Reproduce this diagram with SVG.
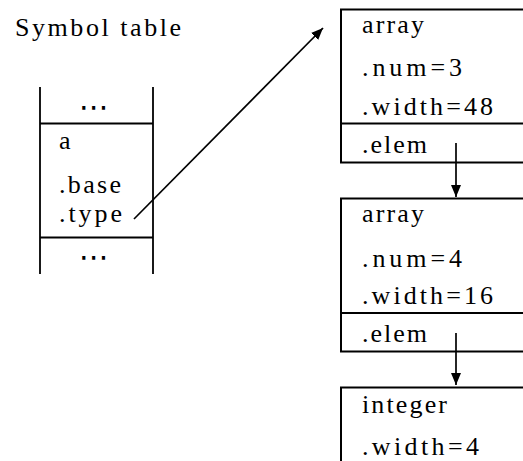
<svg xmlns="http://www.w3.org/2000/svg" width="523" height="461" viewBox="0 0 523 461">
<style>
text{font-family:'Liberation Serif','DejaVu Serif',serif;font-size:26px;fill:#000}
.dots{font-family:'DejaVu Sans',sans-serif;font-size:30px}
.ln{stroke:#000;stroke-width:1.8;fill:none}
.box{stroke:#000;stroke-width:2;fill:#fff}
.conn{stroke:#000;stroke-width:1.7;fill:none;marker-end:url(#ah)}
</style>
<defs>
<marker id="ah" viewBox="0 0 12 10" refX="12" refY="5" markerWidth="12" markerHeight="10" markerUnits="userSpaceOnUse" orient="auto">
<path d="M0,0 L12,5 L0,10 Z" fill="#000"/>
</marker>
</defs>
<rect width="523" height="461" fill="#fff"/>
<g id="title"><text x="15" y="36" textLength="166">Symbol table</text></g>
<g id="symtable">
<line class="ln" x1="40" y1="87" x2="40" y2="274"/>
<line class="ln" x1="153" y1="87" x2="153" y2="274"/>
<line class="ln" x1="40" y1="123.5" x2="153" y2="123.5"/>
<line class="ln" x1="40" y1="237.5" x2="153" y2="237.5"/>
<text class="dots" x="94" y="117" text-anchor="middle">⋯</text>
<text x="59" y="149">a</text>
<text x="59" y="193" textLength="62">.base</text>
<text x="59" y="222" textLength="63">.type</text>
<text class="dots" x="94" y="267" text-anchor="middle">⋯</text>
</g>
<g id="array1">
<rect class="box" x="341" y="9.5" width="200" height="153"/>
<line class="ln" x1="341" y1="123.5" x2="523" y2="123.5" style="stroke-width:2"/>
<text x="362" y="33" textLength="62">array</text>
<text x="362" y="76" textLength="100">.num=3</text>
<text x="362" y="115" textLength="131">.width=48</text>
<text x="362" y="153" textLength="65">.elem</text>
</g>
<g id="array2">
<rect class="box" x="341" y="198.5" width="200" height="153"/>
<line class="ln" x1="341" y1="313" x2="523" y2="313" style="stroke-width:2"/>
<text x="362" y="222" textLength="62">array</text>
<text x="362" y="267" textLength="100">.num=4</text>
<text x="362" y="304" textLength="131">.width=16</text>
<text x="362" y="342" textLength="65">.elem</text>
</g>
<g id="integer">
<rect class="box" x="341" y="387.5" width="200" height="90"/>
<text x="362" y="413" textLength="85">integer</text>
<text x="362" y="455" textLength="117">.width=4</text>
</g>
<g id="connectors">
<line class="conn" x1="134" y1="219" x2="323" y2="28"/>
<line class="conn" x1="456" y1="143" x2="456" y2="197"/>
<line class="conn" x1="456" y1="333" x2="456" y2="385"/>
</g>
</svg>
